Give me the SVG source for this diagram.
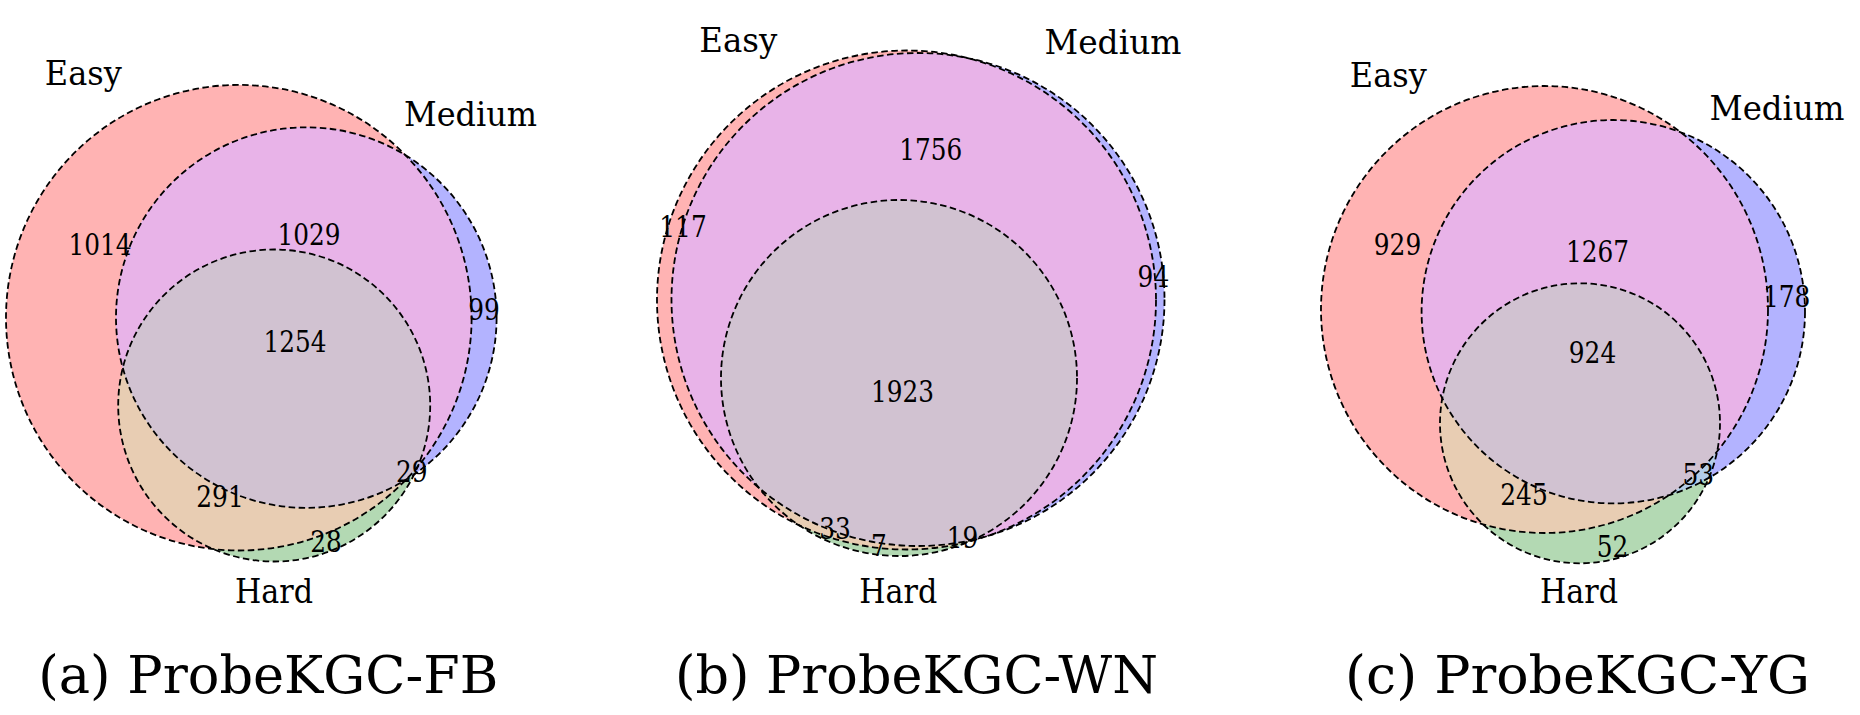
<svg xmlns="http://www.w3.org/2000/svg" width="1860" height="715" viewBox="0 0 1860 715">
<style>
.e{fill:#FFB3B3}.m{fill:#B3B3FF}.h{fill:#B3D9B3}
.em{fill:#E8B3E8}.eh{fill:#E8CDB3}.mh{fill:#B3CDE8}.emh{fill:#D1C2D1}
.o{fill:none;stroke:#000;stroke-width:1.8;stroke-dasharray:6.5 3.5}
.t{fill:#000;text-anchor:middle;font-family:"DejaVu Serif",serif}
.n{font-size:29.5px}
.l{font-size:33px}
.c{font-size:53px}
</style>
<defs>
<clipPath id="cEa"><circle cx="238.8" cy="317.7" r="232.8"/></clipPath>
<clipPath id="cMa"><circle cx="306.3" cy="317.6" r="190.3"/></clipPath>
<clipPath id="cEb"><circle cx="906.5" cy="300" r="249.5"/></clipPath>
<clipPath id="cMb"><circle cx="918" cy="299.5" r="246.5"/></clipPath>
<clipPath id="cEc"><circle cx="1544.5" cy="309.5" r="223.5"/></clipPath>
<clipPath id="cMc"><circle cx="1613.3" cy="311.7" r="191.7"/></clipPath>
</defs>
<rect width="1860" height="715" fill="#fff"/>

<g id="panel-a">
  <g id="a-regions">
    <circle class="e" cx="238.8" cy="317.7" r="232.8"/>
    <circle class="m" cx="306.3" cy="317.6" r="190.3"/>
    <circle class="h" cx="274.2" cy="405.5" r="156"/>
    <circle class="em" cx="306.3" cy="317.6" r="190.3" clip-path="url(#cEa)"/>
    <circle class="eh" cx="274.2" cy="405.5" r="156" clip-path="url(#cEa)"/>
    <circle class="mh" cx="274.2" cy="405.5" r="156" clip-path="url(#cMa)"/>
    <g clip-path="url(#cMa)"><circle class="emh" cx="274.2" cy="405.5" r="156" clip-path="url(#cEa)"/></g>
  </g>
  <g id="a-outlines">
    <circle class="o" cx="238.8" cy="317.7" r="232.8"/>
    <circle class="o" cx="306.3" cy="317.6" r="190.3"/>
    <circle class="o" cx="274.2" cy="405.5" r="156"/>
  </g>
  <g id="a-text" class="t">
  <text class="l" x="83.3" y="85" textLength="77" lengthAdjust="spacingAndGlyphs">Easy</text>
  <text class="l" x="470.5" y="126" textLength="133" lengthAdjust="spacingAndGlyphs">Medium</text>
  <text class="l" x="274" y="603.3" textLength="78" lengthAdjust="spacingAndGlyphs">Hard</text>
  <text class="n" x="100" y="255" textLength="63" lengthAdjust="spacingAndGlyphs">1014</text>
  <text class="n" x="309" y="245" textLength="63" lengthAdjust="spacingAndGlyphs">1029</text>
  <text class="n" x="295" y="351.7" textLength="63" lengthAdjust="spacingAndGlyphs">1254</text>
  <text class="n" x="484" y="320" textLength="31.6" lengthAdjust="spacingAndGlyphs">99</text>
  <text class="n" x="411.7" y="481.7" textLength="31.6" lengthAdjust="spacingAndGlyphs">29</text>
  <text class="n" x="220" y="506.7" textLength="47.4" lengthAdjust="spacingAndGlyphs">291</text>
  <text class="n" x="326" y="551.7" textLength="31.6" lengthAdjust="spacingAndGlyphs">28</text>
  <text class="c" x="268.3" y="693.3" textLength="460" lengthAdjust="spacingAndGlyphs">(a) ProbeKGC-FB</text>
  </g>
</g>

<g id="panel-b">
  <g id="b-regions">
    <circle class="e" cx="906.5" cy="300" r="249.5"/>
    <circle class="m" cx="918" cy="299.5" r="246.5"/>
    <circle class="h" cx="899" cy="378" r="178"/>
    <circle class="em" cx="918" cy="299.5" r="246.5" clip-path="url(#cEb)"/>
    <circle class="eh" cx="899" cy="378" r="178" clip-path="url(#cEb)"/>
    <circle class="mh" cx="899" cy="378" r="178" clip-path="url(#cMb)"/>
    <g clip-path="url(#cMb)"><circle class="emh" cx="899" cy="378" r="178" clip-path="url(#cEb)"/></g>
  </g>
  <g id="b-outlines">
    <circle class="o" cx="906.5" cy="300" r="249.5"/>
    <circle class="o" cx="918" cy="299.5" r="246.5"/>
    <circle class="o" cx="899" cy="378" r="178"/>
  </g>
  <g id="b-text" class="t">
  <text class="l" x="738.3" y="52" textLength="78" lengthAdjust="spacingAndGlyphs">Easy</text>
  <text class="l" x="1113" y="53.6" textLength="137" lengthAdjust="spacingAndGlyphs">Medium</text>
  <text class="l" x="898.3" y="603.3" textLength="78" lengthAdjust="spacingAndGlyphs">Hard</text>
  <text class="n" x="930.8" y="160" textLength="63" lengthAdjust="spacingAndGlyphs">1756</text>
  <text class="n" x="683" y="237.3" textLength="47.4" lengthAdjust="spacingAndGlyphs">117</text>
  <text class="n" x="1153.4" y="287" textLength="31.6" lengthAdjust="spacingAndGlyphs">94</text>
  <text class="n" x="902.5" y="401.7" textLength="63" lengthAdjust="spacingAndGlyphs">1923</text>
  <text class="n" x="835" y="539" textLength="31.6" lengthAdjust="spacingAndGlyphs">33</text>
  <text class="n" x="879" y="556" textLength="15.8" lengthAdjust="spacingAndGlyphs">7</text>
  <text class="n" x="962.5" y="548.3" textLength="31.6" lengthAdjust="spacingAndGlyphs">19</text>
  <text class="c" x="916.5" y="693.3" textLength="483" lengthAdjust="spacingAndGlyphs">(b) ProbeKGC-WN</text>
  </g>
</g>

<g id="panel-c">
  <g id="c-regions">
    <circle class="e" cx="1544.5" cy="309.5" r="223.5"/>
    <circle class="m" cx="1613.3" cy="311.7" r="191.7"/>
    <circle class="h" cx="1580" cy="423.3" r="140"/>
    <circle class="em" cx="1613.3" cy="311.7" r="191.7" clip-path="url(#cEc)"/>
    <circle class="eh" cx="1580" cy="423.3" r="140" clip-path="url(#cEc)"/>
    <circle class="mh" cx="1580" cy="423.3" r="140" clip-path="url(#cMc)"/>
    <g clip-path="url(#cMc)"><circle class="emh" cx="1580" cy="423.3" r="140" clip-path="url(#cEc)"/></g>
  </g>
  <g id="c-outlines">
    <circle class="o" cx="1544.5" cy="309.5" r="223.5"/>
    <circle class="o" cx="1613.3" cy="311.7" r="191.7"/>
    <circle class="o" cx="1580" cy="423.3" r="140"/>
  </g>
  <g id="c-text" class="t">
  <text class="l" x="1388.3" y="86.7" textLength="77" lengthAdjust="spacingAndGlyphs">Easy</text>
  <text class="l" x="1777" y="119.5" textLength="135" lengthAdjust="spacingAndGlyphs">Medium</text>
  <text class="l" x="1579" y="603.3" textLength="78" lengthAdjust="spacingAndGlyphs">Hard</text>
  <text class="n" x="1397.5" y="255" textLength="47.4" lengthAdjust="spacingAndGlyphs">929</text>
  <text class="n" x="1597.5" y="261.7" textLength="63" lengthAdjust="spacingAndGlyphs">1267</text>
  <text class="n" x="1786.7" y="306.7" textLength="47.4" lengthAdjust="spacingAndGlyphs">178</text>
  <text class="n" x="1592.5" y="363.3" textLength="47.4" lengthAdjust="spacingAndGlyphs">924</text>
  <text class="n" x="1524" y="505" textLength="47.4" lengthAdjust="spacingAndGlyphs">245</text>
  <text class="n" x="1698.3" y="485" textLength="31.6" lengthAdjust="spacingAndGlyphs">53</text>
  <text class="n" x="1612.5" y="557" textLength="31.6" lengthAdjust="spacingAndGlyphs">52</text>
  <text class="c" x="1577.5" y="693.3" textLength="465" lengthAdjust="spacingAndGlyphs">(c) ProbeKGC-YG</text>
  </g>
</g>
</svg>
